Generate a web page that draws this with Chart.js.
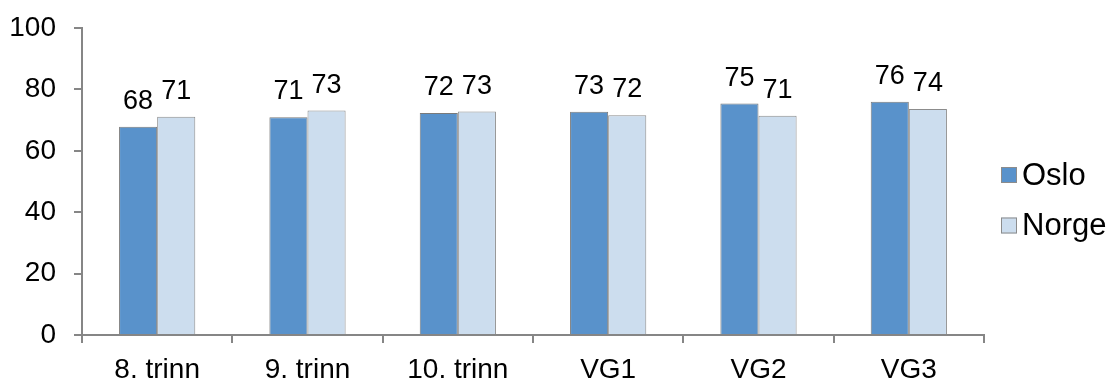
<!DOCTYPE html>
<html>
<head>
<meta charset="utf-8">
<script src="https://cdn.jsdelivr.net/npm/chart.js@4/dist/chart.umd.min.js"></script>
<style>
  html, body { margin: 0; padding: 0; background: #fff; }
  #wrap { width: 1115px; height: 382px; position: relative; }
</style>
</head>
<body>
<div id="wrap"><canvas id="c" width="1115" height="382"></canvas></div>
<script>
const categories = ['8. trinn', '9. trinn', '10. trinn', 'VG1', 'VG2', 'VG3'];
const osloValues = [67.8, 70.9, 72.3, 72.7, 75.4, 76.0];
const norgeValues = [71.1, 73.1, 72.8, 71.6, 71.4, 73.6];
const seriesNames = ['Oslo', 'Norge'];
const yTicks = [0, 20, 40, 60, 80, 100];

const FONT = '"Liberation Sans", Arial, sans-serif';
const AXIS = '#868686';

const valueLabels = {
  id: 'valueLabels',
  afterDatasetsDraw(chart) {
    const ctx = chart.ctx;
    ctx.save();
    ctx.font = '27px ' + FONT;
    ctx.fillStyle = '#000';
    ctx.textAlign = 'center';
    ctx.textBaseline = 'alphabetic';
    chart.data.datasets.forEach((ds, di) => {
      chart.getDatasetMeta(di).data.forEach((bar, i) => {
        ctx.fillText(String(Math.round(ds.data[i])), bar.x, bar.y - 18);
      });
    });
    ctx.restore();
  }
};

const sideLegend = {
  id: 'sideLegend',
  afterDraw(chart) {
    const ctx = chart.ctx;
    ctx.save();
    ctx.font = '31px ' + FONT;
    ctx.textBaseline = 'middle';
    ctx.textAlign = 'left';
    const tops = [167, 217.5];
    chart.data.datasets.forEach((ds, di) => {
      const y = tops[di];
      ctx.fillStyle = ds.backgroundColor;
      ctx.fillRect(1001, y, 16, 16);
      ctx.strokeStyle = '#8c8c8c';
      ctx.lineWidth = 1;
      ctx.strokeRect(1001.5, y + 0.5, 15, 15);
      ctx.fillStyle = '#000';
      ctx.fillText(ds.label, 1022, y + 9);
    });
    ctx.restore();
  }
};

new Chart(document.getElementById('c'), {
  type: 'bar',
  data: {
    labels: categories,
    datasets: [
      { label: seriesNames[0], data: osloValues, backgroundColor: '#5992CB', borderColor: '#7a7a7a', borderWidth: 1,
        categoryPercentage: 0.507, barPercentage: 1.0 },
      { label: seriesNames[1], data: norgeValues, backgroundColor: '#CCDDEE', borderColor: '#8c8c8c', borderWidth: 1,
        categoryPercentage: 0.507, barPercentage: 1.0 }
    ]
  },
  options: {
    responsive: false,
    animation: false,
    devicePixelRatio: 1,
    layout: { padding: { top: 28, right: 131, left: 0, bottom: 0 } },
    plugins: { legend: { display: false }, tooltip: { enabled: false } },
    scales: {
      y: {
        min: 0, max: 100,
        afterBuildTicks(scale) { scale.ticks = yTicks.map(v => ({ value: v })); },
        afterFit(scale) { scale.width = 82; scale.paddingTop = 0; scale.paddingBottom = 0; },
        grid: { drawOnChartArea: false, drawTicks: true, tickLength: 8, color: AXIS, lineWidth: 2 },
        border: { display: true, color: AXIS, width: 2 },
        ticks: { color: '#000', font: { family: FONT, size: 28 }, padding: 18 }
      },
      x: {
        afterFit(scale) { scale.height = 47; scale.paddingLeft = 0; scale.paddingRight = 0; },
        grid: { drawOnChartArea: false, drawTicks: true, tickLength: 8, color: AXIS, lineWidth: 2, offset: true },
        border: { display: true, color: AXIS, width: 2 },
        ticks: { color: '#000', font: { family: FONT, size: 28 }, padding: 10 }
      }
    }
  },
  plugins: [valueLabels, sideLegend]
});
</script>
</body>
</html>
